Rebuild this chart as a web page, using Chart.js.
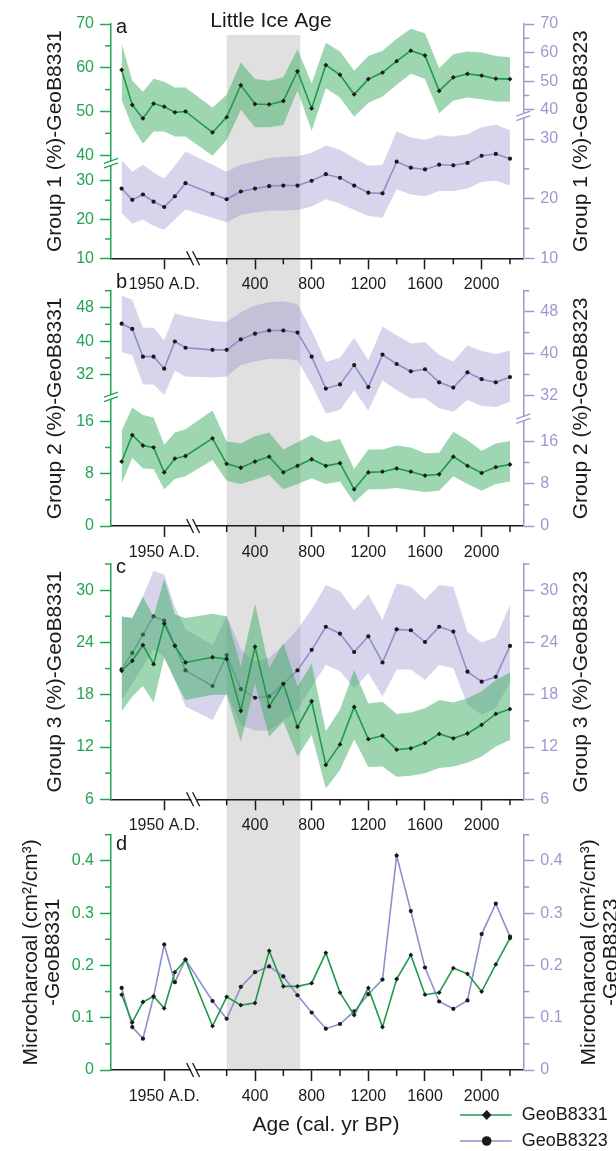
<!DOCTYPE html>
<html>
<head>
<meta charset="utf-8">
<script src="https://cdn.jsdelivr.net/npm/chart.js@4.4.1/dist/chart.umd.min.js"></script>
<style>
  body { margin: 0; background: #fff; }
  #fig { position: relative; width: 616px; height: 1151px; overflow: hidden; }
  #fig canvas { position: absolute; left: 0; }
</style>
</head>
<body>
<div id="fig">
  <canvas id="pa" width="616" height="300" style="top:0px"></canvas>
  <canvas id="pb" width="616" height="300" style="top:270px"></canvas>
  <canvas id="pc" width="616" height="295" style="top:545px"></canvas>
  <canvas id="pd" width="616" height="341" style="top:810px"></canvas>
</div>
<script>
// ages in cal. yr BP; negative values are years AD after 1950 (1990 AD = -40)
const ages = [-40, -30, -20, -10, 0, 10, 20, 100, 200, 300, 400, 500, 600, 700, 800, 900, 1000, 1100, 1200, 1300, 1400, 1500, 1600, 1700, 1800, 1900, 2000, 2100, 2200];
const liaSpan = [200, 720];

// x ticks (0 is shown as 1950 A.D.)
const xMajor = [0, 400, 800, 1200, 1600, 2000];
const xMinor = [200, 600, 1000, 1400, 1800, 2200];

// panel a - Group 1 (%)
const g1_8331 = [59.5, 51.5, 48.4, 51.8, 51.1, 49.8, 50.0, 45.2, 48.7, 56.0, 51.7, 51.6, 52.4, 59.2, 50.7, 60.6, 58.4, 53.9, 57.4, 58.9, 61.5, 63.9, 62.8, 54.7, 57.8, 58.6, 58.2, 57.5, 57.4];
const g1_8331_hi = [65.6, 57.0, 54.5, 57.5, 56.8, 55.5, 55.5, 50.9, 53.8, 61.2, 57.4, 57.0, 57.8, 64.2, 56.4, 65.7, 63.7, 59.3, 62.7, 63.9, 66.6, 68.9, 67.9, 59.9, 63.1, 63.7, 63.5, 62.7, 62.4];
const g1_8331_lo = [52.6, 46.5, 42.6, 45.4, 45.4, 44.3, 44.3, 39.8, 43.5, 50.4, 46.4, 46.4, 46.9, 54.8, 45.6, 55.3, 53.2, 48.8, 52.0, 53.4, 56.1, 58.6, 57.4, 49.6, 52.5, 53.2, 52.8, 52.3, 52.2];
const g1_8323 = [21.7, 19.8, 20.7, 19.5, 18.6, 20.4, 22.6, 20.8, 19.9, 21.2, 21.7, 22.1, 22.2, 22.2, 23.0, 24.1, 23.5, 22.2, 21.0, 20.9, 26.2, 25.2, 24.9, 25.7, 25.6, 26.0, 27.2, 27.5, 26.7];
const g1_8323_hi = [26.5, 24.5, 25.7, 24.4, 23.4, 25.5, 27.9, 25.7, 24.5, 25.7, 26.2, 26.8, 27.0, 27.1, 27.7, 28.9, 28.2, 26.8, 25.5, 25.7, 32.7, 30.5, 29.9, 31.3, 30.9, 31.6, 34.0, 34.9, 33.0];
const g1_8323_lo = [17.6, 15.8, 16.5, 15.4, 14.8, 16.5, 18.2, 16.8, 16.0, 17.3, 17.7, 18.0, 18.0, 18.1, 18.7, 19.9, 19.2, 18.1, 17.1, 16.8, 21.6, 20.7, 20.4, 21.3, 21.3, 21.7, 22.8, 23.0, 22.2];
const aTicks = [10, 20, 30, 40, 50, 60, 70];
const aMinor = [15, 25, 45, 55, 65];

// panel b - Group 2 (%)
const g2_8331 = [9.85, 13.9, 12.3, 12.0, 8.2, 10.3, 10.7, 13.4, 9.5, 8.9, 9.85, 10.6, 8.2, 9.2, 10.2, 9.2, 9.6, 5.6, 8.2, 8.3, 8.8, 8.3, 7.7, 7.9, 10.6, 9.2, 8.1, 9.0, 9.4];
const g2_8331_hi = [14.6, 20.7, 18.2, 17.3, 12.4, 14.3, 14.8, 19.7, 12.9, 12.6, 13.7, 14.3, 11.7, 12.8, 13.9, 12.8, 13.3, 8.7, 11.7, 11.7, 12.3, 12.0, 11.1, 11.2, 14.4, 13.1, 11.5, 12.6, 13.0];
const g2_8331_lo = [6.5, 10.4, 8.8, 8.7, 5.6, 7.2, 7.6, 10.1, 6.9, 6.4, 7.1, 7.8, 5.6, 6.4, 7.3, 6.4, 6.8, 3.6, 5.6, 5.6, 5.8, 5.5, 5.2, 5.4, 7.6, 6.4, 5.4, 6.4, 6.8];
const g2_8323 = [45.7, 44.7, 39.4, 39.4, 37.1, 42.3, 41.1, 40.7, 40.7, 42.7, 43.8, 44.4, 44.4, 44.0, 39.4, 33.3, 34.1, 37.8, 33.6, 39.8, 38.0, 36.6, 37.0, 34.5, 33.5, 36.4, 35.1, 34.5, 35.5];
const g2_8323_hi = [51.1, 50.2, 44.9, 44.9, 42.5, 47.7, 47.1, 46.2, 46.0, 47.9, 49.2, 49.8, 50.0, 49.4, 44.4, 38.4, 39.2, 43.0, 38.7, 45.1, 43.5, 41.9, 42.2, 39.7, 38.5, 41.6, 40.5, 39.9, 40.6];
const g2_8323_lo = [40.3, 39.7, 34.1, 34.1, 32.1, 36.7, 35.6, 35.4, 35.6, 37.8, 38.5, 39.0, 39.0, 38.7, 34.0, 25.7, 26.9, 33.0, 26.7, 34.9, 33.0, 31.0, 31.0, 27.5, 26.3, 30.4, 28.3, 28.0, 29.8];
const bTicks = [0, 8, 16, 32, 40, 48];
const bMinor = [4, 12, 36, 44, 52];

// panel c - Group 3 (%)
const g3_8331 = [20.75, 21.9, 23.7, 21.5, 26.15, 23.6, 21.7, 22.3, 22.1, 16.15, 23.5, 16.65, 19.25, 14.3, 17.25, 9.95, 12.3, 16.6, 12.9, 13.3, 11.7, 11.85, 12.45, 13.5, 13.0, 13.55, 14.55, 15.8, 16.35];
const g3_8331_hi = [27.0, 26.8, 29.2, 27.0, 31.3, 27.2, 26.8, 27.3, 27.0, 21.25, 28.45, 21.05, 23.9, 18.95, 21.55, 13.8, 16.3, 20.85, 17.0, 17.2, 15.8, 15.95, 16.45, 17.4, 17.1, 17.6, 18.4, 19.7, 20.55];
const g3_8331_lo = [16.1, 17.8, 19.0, 17.1, 22.2, 19.7, 17.4, 18.0, 18.0, 12.6, 19.25, 13.2, 14.9, 10.9, 13.4, 7.25, 9.35, 12.9, 9.7, 9.75, 8.6, 8.7, 9.0, 9.6, 9.75, 10.2, 10.9, 12.05, 12.8];
const g3_8323 = [20.9, 22.8, 24.9, 27.0, 26.5, 23.65, 20.8, 19.0, 22.55, 18.65, 17.65, 17.8, 19.25, 20.8, 23.15, 25.8, 25.0, 22.9, 24.7, 21.7, 25.5, 25.4, 24.05, 25.8, 25.25, 20.65, 19.5, 20.05, 23.6];
const g3_8323_hi = [26.9, 26.8, 29.3, 32.2, 31.8, 28.1, 25.5, 23.7, 27.1, 23.2, 21.8, 22.2, 23.7, 25.5, 27.8, 30.6, 29.9, 27.7, 29.5, 26.6, 30.75, 30.4, 28.9, 30.6, 30.4, 25.2, 24.0, 24.6, 28.3];
const g3_8323_lo = [17.4, 19.3, 21.25, 23.2, 22.4, 19.7, 16.65, 15.1, 18.2, 14.5, 13.9, 13.9, 15.1, 16.3, 18.9, 21.4, 20.7, 18.75, 20.5, 17.8, 20.9, 20.9, 19.7, 21.4, 21.05, 16.85, 15.7, 16.45, 19.4];
const cTicks = [6, 12, 18, 24, 30];
const cMinor = [9, 15, 21, 27, 33];

// panel d - microcharcoal (cm2/cm3)
const char_8331 = [0.144, 0.091, 0.130, 0.141, 0.118, 0.187, 0.211, 0.084, 0.140, 0.124, 0.128, 0.228, 0.160, 0.160, 0.166, 0.224, 0.148, 0.105, 0.157, 0.082, 0.174, 0.220, 0.144, 0.148, 0.195, 0.184, 0.150, 0.202, 0.252];
const char_8323 = [0.157, 0.082, 0.060, 0.140, 0.240, 0.168, 0.211, 0.132, 0.098, 0.159, 0.187, 0.198, 0.179, 0.143, 0.110, 0.079, 0.088, 0.112, 0.145, 0.173, 0.410, 0.304, 0.196, 0.131, 0.117, 0.133, 0.260, 0.318, 0.255];
const dTicks = [0, 0.1, 0.2, 0.3, 0.4];
const dMinor = [0.05, 0.15, 0.25, 0.35, 0.45];

// styling
const FONT = '"Liberation Sans", Arial, sans-serif';
const INK = '#1a1a1a';
const SHADE = '#e0e0e0';
const GREEN = '#1e9a4c', GREEN_AX = '#22a453', GREEN_BAND = 'rgba(59,173,97,0.5)';
const PURPLE = '#918ecb', PURPLE_AX = '#9b99d1', PURPLE_BAND = 'rgba(140,135,200,0.35)';
const LEFT_W = 111, RIGHT_W = 92.7;
const X_BREAK = 44;

// broken axes: [value, fraction of axis length]
const X_SEGS = [[-50, 0], [20, 0.1807], [100, 0.2462], [2294, 1]];

const PANELS = {
  pa: {
    padTop: 24, bottom: 258.3, shade: [35, 300],
    segs: { x: X_SEGS, yL: [[10, 0], [30, 0.330], [40, 0.440], [70, 1]], yR: [[10, 0], [30, 0.509], [40, 0.634], [70, 1]] },
    ticks: aTicks, minor: aMinor, brkL: 37, brkR: 38,
    titleL: { x: [55], lines: ['Group 1 (%)-GeoB8331'] },
    titleR: { x: [581.7], lines: ['Group 1 (%)-GeoB8323'] },
    letter: ['a', 33.3],
    texts: [['Little Ice Age', 271, 21.7, 21]]
  },
  pb: {
    padTop: 20.7, bottom: 256, shade: [20, 290],
    segs: { x: X_SEGS, yL: [[0, 0], [16, 0.445], [32, 0.643], [52, 1]], yR: [[0, 0], [16, 0.36], [32, 0.555], [52, 1]] },
    ticks: bTicks, minor: bMinor, brkL: 24.5, brkR: 24,
    titleL: { x: [55], lines: ['Group 2 (%)-GeoB8331'] },
    titleR: { x: [581.7], lines: ['Group 2 (%)-GeoB8323'] },
    letter: ['b', 18.3],
    texts: []
  },
  pc: {
    padTop: 19, bottom: 254.3, shade: [15, 289],
    segs: { x: X_SEGS, yL: [[6, 0], [33, 1]], yR: [[6, 0], [33, 1]] },
    ticks: cTicks, minor: cMinor,
    titleL: { x: [55], lines: ['Group 3 (%)-GeoB8331'] },
    titleR: { x: [581.7], lines: ['Group 3 (%)-GeoB8323'] },
    letter: ['c', 28.3],
    texts: []
  },
  pd: {
    padTop: 24.7, bottom: 260, shade: [24, 260],
    segs: { x: X_SEGS, yL: [[0, 0], [0.45, 1]], yR: [[0, 0], [0.45, 1]] },
    ticks: dTicks, minor: dMinor,
    titleL: { x: [31.4, 53], lines: ['Microcharcoal (cm²/cm³)', '-GeoB8331'] },
    titleR: { x: [589, 611], lines: ['Microcharcoal (cm²/cm³)', '-GeoB8323'] },
    letter: ['d', 40],
    texts: [['Age (cal. yr BP)', 326, 315.7, 21]],
    legend: true
  }
};

class BrokenScale extends Chart.LinearScale {
  getPixelForValue(v) {
    if (v === null || v === undefined || isNaN(v)) return NaN;
    const s = PANELS[this.chart.canvas.id].segs[this.id];
    let i = 1;
    while (i < s.length - 1 && v > s[i][0]) i++;
    const a = s[i - 1], b = s[i];
    return this.getPixelForDecimal(a[1] + (v - a[0]) * (b[1] - a[1]) / (b[0] - a[0]));
  }
}
BrokenScale.id = 'broken';
Chart.register(BrokenScale);

function seg(ctx, x1, y1, x2, y2) {
  ctx.beginPath(); ctx.moveTo(x1, y1); ctx.lineTo(x2, y2); ctx.stroke();
}

function yBreak(ctx, x, y, color) {
  ctx.fillStyle = '#fff';
  ctx.beginPath();
  ctx.moveTo(x - 7, y + 1); ctx.lineTo(x + 7, y - 4); ctx.lineTo(x + 7, y); ctx.lineTo(x - 7, y + 5);
  ctx.closePath(); ctx.fill();
  ctx.strokeStyle = color; ctx.lineWidth = 1.3;
  seg(ctx, x - 7, y + 0.5, x + 7, y - 4.5);
  seg(ctx, x - 7, y + 5, x + 7, y);
}

function xBreak(ctx, x, y) {
  ctx.fillStyle = '#fff';
  ctx.beginPath();
  ctx.moveTo(x - 6, y - 7); ctx.lineTo(x - 1, y - 7); ctx.lineTo(x + 6, y + 7); ctx.lineTo(x + 1, y + 7);
  ctx.closePath(); ctx.fill();
  ctx.strokeStyle = INK; ctx.lineWidth = 1.3;
  seg(ctx, x - 7, y - 7, x, y + 7);
  seg(ctx, x - 1, y - 7, x + 6, y + 7);
}

function vText(ctx, text, x, y) {
  ctx.save();
  ctx.translate(x, y); ctx.rotate(-Math.PI / 2);
  ctx.fillText(text, 0, 0);
  ctx.restore();
}

const extras = {
  id: 'extras',
  beforeDraw(chart) {
    const p = PANELS[chart.canvas.id], ctx = chart.ctx, sx = chart.scales.x;
    const x0 = sx.getPixelForValue(liaSpan[0]), x1 = sx.getPixelForValue(liaSpan[1]);
    ctx.save();
    ctx.fillStyle = SHADE;
    ctx.fillRect(x0, p.shade[0], x1 - x0, p.shade[1] - p.shade[0]);
    ctx.restore();
  },
  afterDraw(chart) {
    const p = PANELS[chart.canvas.id], ctx = chart.ctx, A = chart.chartArea;
    const sx = chart.scales.x, sl = chart.scales.yL, sr = chart.scales.yR;
    ctx.save();
    ctx.lineWidth = 1.5;
    ctx.strokeStyle = INK;
    xMinor.forEach(v => { const x = sx.getPixelForValue(v); seg(ctx, x, A.bottom, x, A.bottom + 6); });
    ctx.strokeStyle = GREEN_AX;
    p.minor.forEach(v => { const y = sl.getPixelForValue(v); seg(ctx, A.left - 6, y, A.left, y); });
    ctx.strokeStyle = PURPLE_AX;
    p.minor.forEach(v => { const y = sr.getPixelForValue(v); seg(ctx, A.right, y, A.right + 6, y); });

    xBreak(ctx, sx.getPixelForValue(X_BREAK), A.bottom);
    if (p.brkL !== undefined) yBreak(ctx, A.left, sl.getPixelForValue(p.brkL), GREEN_AX);
    if (p.brkR !== undefined) yBreak(ctx, A.right, sr.getPixelForValue(p.brkR), PURPLE_AX);

    // axis titles, reading bottom to top on both sides
    const cy = (A.top + A.bottom) / 2;
    ctx.fillStyle = INK;
    ctx.font = '21px ' + FONT;
    ctx.textAlign = 'center'; ctx.textBaseline = 'middle';
    p.titleL.lines.forEach((t, i) => vText(ctx, t, p.titleL.x[i], cy));
    p.titleR.lines.forEach((t, i) => vText(ctx, t, p.titleR.x[i], cy));

    // panel letter
    ctx.font = '20px ' + FONT;
    ctx.textAlign = 'left'; ctx.textBaseline = 'alphabetic';
    ctx.fillText(p.letter[0], 116, p.letter[1]);

    ctx.textAlign = 'center'; ctx.textBaseline = 'middle';
    p.texts.forEach(t => { ctx.font = t[3] + 'px ' + FONT; ctx.fillText(t[0], t[1], t[2]); });

    if (p.legend) {
      const rows = [[305, GREEN, true, 'GeoB8331'], [331, PURPLE, false, 'GeoB8323']];
      rows.forEach(([y, color, diamond, label]) => {
        ctx.strokeStyle = color; ctx.lineWidth = 1.6;
        seg(ctx, 460, y, 511.7, y);
        ctx.fillStyle = INK;
        ctx.beginPath();
        if (diamond) {
          ctx.moveTo(486.7, y - 5); ctx.lineTo(491.5, y); ctx.lineTo(486.7, y + 5); ctx.lineTo(481.9, y);
          ctx.closePath();
        } else {
          ctx.arc(486.7, y, 4.8, 0, Math.PI * 2);
        }
        ctx.fill();
        ctx.font = '18px ' + FONT;
        ctx.textAlign = 'left'; ctx.textBaseline = 'middle';
        ctx.fillText(label, 521.7, y);
      });
    }
    ctx.restore();
  }
};

function xy(vals) {
  return ages.map((a, i) => ({ x: a, y: vals[i] }));
}

function line(label, vals, axis, color, style, r, order) {
  return {
    label, data: xy(vals), yAxisID: axis, order,
    borderColor: color, borderWidth: 1.6, tension: 0, fill: false,
    pointStyle: style, pointRadius: r, pointHoverRadius: r,
    pointBackgroundColor: INK, pointBorderColor: INK, pointBorderWidth: 0
  };
}

function band(hi, lo, axis, color, order) {
  const base = { yAxisID: axis, order, borderColor: 'transparent', borderWidth: 1, pointRadius: 0, pointHoverRadius: 0 };
  return [
    Object.assign({}, base, { data: xy(hi), fill: '+1', backgroundColor: color }),
    Object.assign({}, base, { data: xy(lo), fill: false })
  ];
}

function yScale(pos, color, segs, ticks) {
  return {
    type: 'broken', position: pos, bounds: 'data',
    min: segs[0][0], max: segs[segs.length - 1][0],
    afterBuildTicks: s => { s.ticks = ticks.map(v => ({ value: v })); },
    afterFit: s => { s.width = pos === 'left' ? LEFT_W : RIGHT_W; },
    ticks: { color, font: { family: FONT, size: 16 }, padding: 6, autoSkip: false, callback: v => String(v) },
    grid: { drawOnChartArea: false, tickLength: 11, tickColor: color, tickWidth: 1.5 },
    border: { color, width: 1.5 }
  };
}

function makePanel(id, datasets) {
  const p = PANELS[id];
  const canvas = document.getElementById(id);
  const xh = canvas.height - p.bottom;
  new Chart(canvas, {
    type: 'line',
    data: { datasets },
    plugins: [extras],
    options: {
      responsive: false, animation: false, events: [],
      layout: { padding: { top: p.padTop, left: 0, right: 0, bottom: 0 } },
      plugins: { legend: { display: false }, tooltip: { enabled: false } },
      scales: {
        x: {
          type: 'broken', position: 'bottom', bounds: 'data', min: -50, max: 2294,
          afterBuildTicks: s => { s.ticks = xMajor.map(v => ({ value: v })); },
          afterFit: s => { s.height = xh; },
          ticks: {
            color: INK, font: { family: FONT, size: 16 }, padding: 6, autoSkip: false, maxRotation: 0,
            callback: v => v === 0 ? '1950 A.D.' : String(v)
          },
          grid: { drawOnChartArea: false, tickLength: 11, tickColor: INK, tickWidth: 1.5 },
          border: { color: INK, width: 1.5 }
        },
        yL: yScale('left', GREEN_AX, p.segs.yL, p.ticks),
        yR: yScale('right', PURPLE_AX, p.segs.yR, p.ticks)
      }
    }
  });
}

makePanel('pa', [
  line('GeoB8331', g1_8331, 'yL', GREEN, 'rectRot', 2.4, 0),
  ...band(g1_8331_hi, g1_8331_lo, 'yL', GREEN_BAND, 1),
  line('GeoB8323', g1_8323, 'yR', PURPLE, 'circle', 2.1, 3),
  ...band(g1_8323_hi, g1_8323_lo, 'yR', PURPLE_BAND, 4)
]);
makePanel('pb', [
  line('GeoB8331', g2_8331, 'yL', GREEN, 'rectRot', 2.4, 0),
  ...band(g2_8331_hi, g2_8331_lo, 'yL', GREEN_BAND, 1),
  line('GeoB8323', g2_8323, 'yR', PURPLE, 'circle', 2.1, 3),
  ...band(g2_8323_hi, g2_8323_lo, 'yR', PURPLE_BAND, 4)
]);
makePanel('pc', [
  line('GeoB8331', g3_8331, 'yL', GREEN, 'rectRot', 2.4, 0),
  ...band(g3_8331_hi, g3_8331_lo, 'yL', GREEN_BAND, 1),
  line('GeoB8323', g3_8323, 'yR', PURPLE, 'circle', 2.1, 3),
  ...band(g3_8323_hi, g3_8323_lo, 'yR', PURPLE_BAND, 4)
]);
makePanel('pd', [
  line('GeoB8331', char_8331, 'yL', GREEN, 'rectRot', 2.4, 0),
  line('GeoB8323', char_8323, 'yR', PURPLE, 'circle', 2.1, 3)
]);
</script>
</body>
</html>
